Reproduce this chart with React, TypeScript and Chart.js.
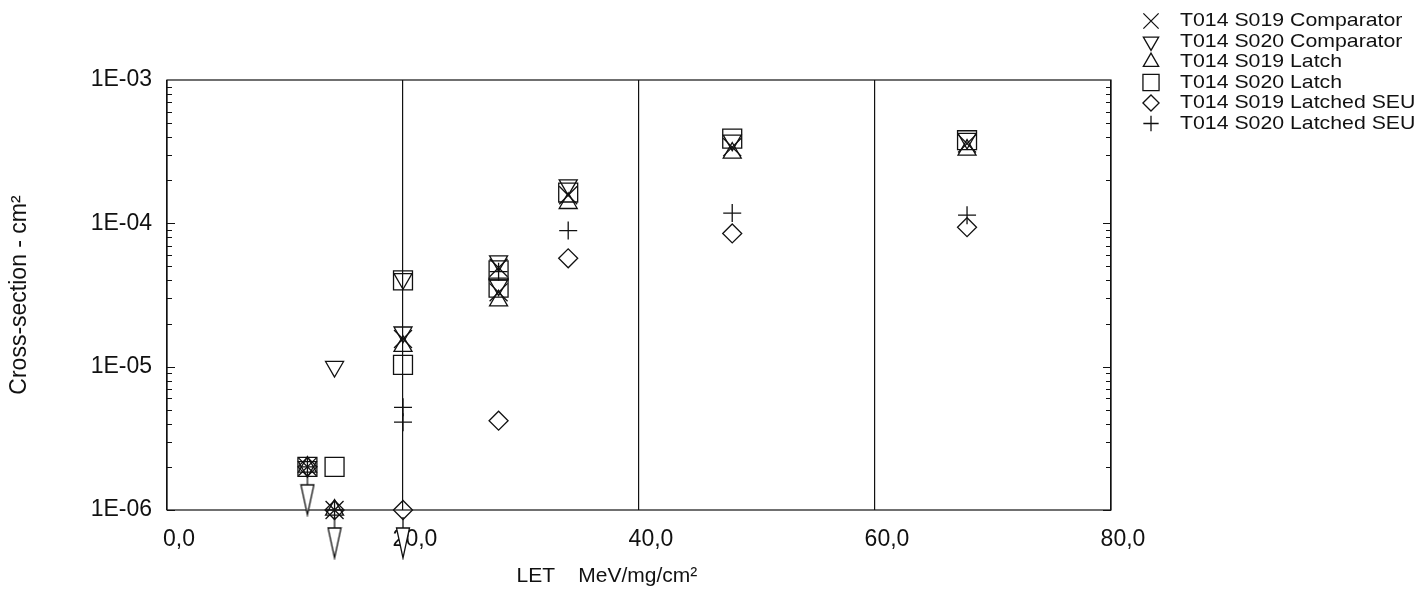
import React, { useEffect, useRef } from 'react';
import { Chart, registerables } from 'chart.js';
import { drawPoint } from 'chart.js/helpers';

Chart.register(...registerables);

// ---- data ----
const seriesLabels = [
  'T014 S019 Comparator',
  'T014 S020 Comparator',
  'T014 S019 Latch',
  'T014 S020 Latch',
  'T014 S019 Latched SEU',
  'T014 S020 Latched SEU',
];

const s019CompX = [11.9, 14.2, 20, 28.1, 28.1, 34.0, 47.9, 67.8];
const s019CompY = [2e-6, 1e-6, 1.56e-5, 4.9e-5, 3.3e-5, 1.57e-4, 3.4e-4, 3.6e-4];

const s020CompX = [11.9, 14.2, 20, 20, 28.1, 28.1, 34.0, 47.9, 67.8];
const s020CompY = [2e-6, 1e-5, 4.1e-5, 1.74e-5, 5.46e-5, 3.7e-5, 1.85e-4, 3.8e-4, 3.9e-4];

const s019LatchX = [11.9, 14.2, 20, 28.1, 34.0, 47.9, 67.8];
const s019LatchY = [2e-6, 1e-6, 1.39e-5, 2.89e-5, 1.38e-4, 3.1e-4, 3.25e-4];

const s020LatchX = [11.9, 14.2, 20, 20, 28.1, 28.1, 34.0, 47.9, 67.8];
const s020LatchY = [2e-6, 2e-6, 4.0e-5, 1.03e-5, 4.7e-5, 3.56e-5, 1.64e-4, 3.9e-4, 3.8e-4];

const s019SeuX = [11.9, 14.2, 20, 28.1, 34.0, 47.9, 67.8];
const s019SeuY = [2e-6, 1e-6, 1e-6, 4.2e-6, 5.7e-5, 8.5e-5, 9.4e-5];

const s020SeuX = [11.9, 14.2, 20, 20, 28.1, 34.0, 47.9, 67.8];
const s020SeuY = [2e-6, 1e-6, 5.2e-6, 4.1e-6, 4.6e-5, 8.9e-5, 1.18e-4, 1.14e-4];

// upper-limit arrows (hang below these points)
const limitX = [11.9, 14.2, 20];
const limitY = [2e-6, 1e-6, 1e-6];

const xTickValues = [0, 20, 40, 60, 80];
const xTickLabels = ['0,0', '20,0', '40,0', '60,0', '80,0'];
const yTickValues = [1e-6, 1e-5, 1e-4, 1e-3];
const yTickLabels = ['1E-06', '1E-05', '1E-04', '1E-03'];

const xTitle = 'LET    MeV/mg/cm²           ';
const yTitle = 'Cross-section - cm²';

const INK = '#111';
const FONT = "'Liberation Sans', Arial, Helvetica, sans-serif";

function zip(xs: number[], ys: number[]) {
  return xs.map((x, i) => ({ x, y: ys[i] }));
}

function makeArrow(): HTMLCanvasElement {
  const c = document.createElement('canvas');
  const w = 16;
  const h = 100;
  c.width = w;
  c.height = h;
  const g = c.getContext('2d')!;
  const cx = w / 2;
  const cy = h / 2;
  g.strokeStyle = INK;
  g.lineWidth = 1.3;
  g.fillStyle = '#fff';
  g.beginPath();
  g.moveTo(cx, cy + 7);
  g.lineTo(cx, cy + 18);
  g.stroke();
  g.beginPath();
  g.moveTo(cx - 6.5, cy + 18);
  g.lineTo(cx + 6.5, cy + 18);
  g.lineTo(cx, cy + 48);
  g.closePath();
  g.fill();
  g.stroke();
  return c;
}

const markerStyles: any[] = [
  { pointStyle: 'crossRot', radius: 12.7, rotation: 0 },
  { pointStyle: 'triangle', radius: 10.4, rotation: 180 },
  { pointStyle: 'triangle', radius: 10.4, rotation: 0 },
  { pointStyle: 'rect', radius: 13.4, rotation: 0 },
  { pointStyle: 'rectRot', radius: 9.5, rotation: 0 },
  { pointStyle: 'cross', radius: 9, rotation: 0 },
];

const framePlugin = {
  id: 'frame',
  beforeDatasetsDraw(chart: any) {
    const { ctx, chartArea } = chart;
    const { left, right, top, bottom } = chartArea;
    const y = chart.scales.y;
    ctx.save();
    ctx.strokeStyle = INK;
    ctx.lineWidth = 1.2;
    ctx.strokeRect(left, top, right - left, bottom - top);
    ctx.beginPath();
    for (let e = -6; e < -3; e++) {
      for (let m = 1; m < 10; m++) {
        const py = Math.round(y.getPixelForValue(m * Math.pow(10, e))) + 0.5;
        const len = m === 1 ? 8 : 5;
        ctx.moveTo(left, py);
        ctx.lineTo(left + len, py);
        ctx.moveTo(right, py);
        ctx.lineTo(right - len, py);
      }
    }
    ctx.stroke();
    ctx.restore();
  },
};

const legendPlugin = {
  id: 'sideLegend',
  afterDraw(chart: any) {
    const { ctx } = chart;
    ctx.save();
    const startY = 21;
    const step = 20.5;
    seriesLabels.forEach((label, i) => {
      const ms = markerStyles[i];
      const yy = startY + i * step;
      ctx.strokeStyle = INK;
      ctx.fillStyle = 'rgba(0,0,0,0)';
      ctx.lineWidth = 1.3;
      drawPoint(ctx, { pointStyle: ms.pointStyle, rotation: ms.rotation, radius: ms.radius * 0.85, borderWidth: 1.3 } as any, 1151, yy);
      ctx.save();
      ctx.translate(1180, yy);
      ctx.scale(1.12, 1);
      ctx.fillStyle = INK;
      ctx.font = `19px ${FONT}`;
      ctx.textBaseline = 'middle';
      ctx.textAlign = 'left';
      ctx.fillText(label, 0, 0);
      ctx.restore();
    });
    ctx.restore();
  },
};

export default function App() {
  const ref = useRef<HTMLCanvasElement | null>(null);

  useEffect(() => {
    const canvas = ref.current;
    if (!canvas) return;
    const seriesData = [
      zip(s019CompX, s019CompY),
      zip(s020CompX, s020CompY),
      zip(s019LatchX, s019LatchY),
      zip(s020LatchX, s020LatchY),
      zip(s019SeuX, s019SeuY),
      zip(s020SeuX, s020SeuY),
    ];
    const datasets: any[] = [
      {
        label: 'upper limit',
        data: zip(limitX, limitY),
        pointStyle: makeArrow(),
        pointRadius: 10,
        showLine: false,
        clip: false,
      },
      ...seriesLabels.map((label, i) => ({
        label,
        data: seriesData[i],
        pointStyle: markerStyles[i].pointStyle,
        pointRotation: markerStyles[i].rotation,
        pointRadius: markerStyles[i].radius,
        pointBorderColor: INK,
        pointBackgroundColor: 'rgba(0,0,0,0)',
        pointBorderWidth: 1.3,
        showLine: false,
        clip: false,
      })),
    ];

    const chart = new Chart(canvas, {
      type: 'scatter',
      data: { datasets },
      plugins: [framePlugin, legendPlugin],
      options: {
        animation: false,
        responsive: false,
        events: [],
        layout: { padding: { left: 0, top: 80, right: 315, bottom: 0 } },
        plugins: {
          legend: { display: false },
          tooltip: { enabled: false },
        },
        scales: {
          x: {
            type: 'linear',
            min: 0,
            max: 80,
            afterBuildTicks: (s: any) => {
              s.ticks = xTickValues.map((value) => ({ value }));
            },
            afterFit: (s: any) => {
              s.height = 79;
            },
            grid: { color: INK, lineWidth: 1.2, drawTicks: false },
            border: { display: false },
            ticks: {
              color: INK,
              font: { family: FONT, size: 23 },
              padding: 16,
              labelOffset: 12,
              maxRotation: 0,
              autoSkip: false,
              callback: (v: any) => {
                const idx = xTickValues.indexOf(Number(v));
                return idx >= 0 ? xTickLabels[idx] : '';
              },
            },
            title: {
              display: true,
              text: xTitle,
              color: INK,
              font: { family: FONT, size: 21 },
              padding: { top: 0, bottom: 0 },
            },
          },
          y: {
            type: 'logarithmic',
            min: 1e-6,
            max: 1e-3,
            afterBuildTicks: (s: any) => {
              s.ticks = yTickValues.map((value) => ({ value }));
            },
            afterFit: (s: any) => {
              s.width = 167;
            },
            grid: { display: false, drawTicks: false },
            border: { display: false },
            ticks: {
              color: INK,
              font: { family: FONT, size: 23 },
              padding: 15,
              autoSkip: false,
              callback: (v: any) => {
                const idx = yTickValues.findIndex((t) => Math.abs(Math.log10(t) - Math.log10(Number(v))) < 1e-6);
                return idx >= 0 ? yTickLabels[idx] : '';
              },
            },
            title: {
              display: true,
              text: yTitle,
              color: INK,
              font: { family: FONT, size: 23 },
              padding: { top: 6, bottom: 0 },
            },
          },
        },
      },
    });
    return () => chart.destroy();
  }, []);

  return (
    <div style={{ position: 'absolute', left: 0, top: 0, width: 1426, height: 589, background: '#fff' }}>
      <canvas ref={ref} width={1426} height={589} style={{ display: 'block' }} />
    </div>
  );
}
